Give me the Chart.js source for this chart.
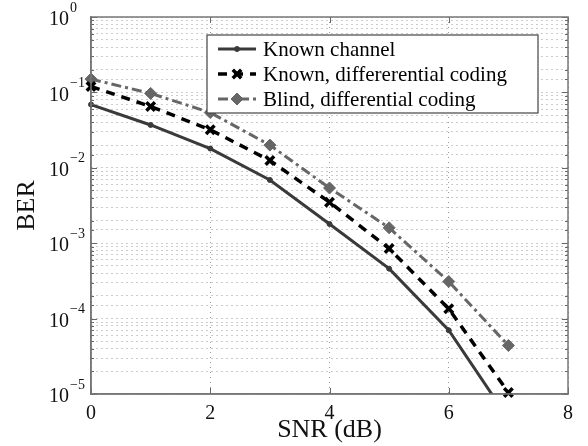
<!DOCTYPE html>
<html>
<head>
<meta charset="utf-8">
<script src="https://cdn.jsdelivr.net/npm/chart.js@4/dist/chart.umd.min.js"></script>
<style>
  body { margin: 0; background: #fff; }
  #berChart { display: block; }
</style>
</head>
<body>
<canvas id="berChart" width="588" height="446"></canvas>
<script>
// Chart data
const snr = [0, 1, 2, 3, 4, 5, 6, 7];
const knownChannel = [0.069, 0.037, 0.018, 0.0069, 0.0018, 0.00046, 0.00007, 0.0000047];
const knownDiff = [0.12, 0.065, 0.032, 0.0125, 0.0035, 0.00085, 0.000135, 0.0000105];
const blindDiff = [0.15, 0.097, 0.054, 0.02, 0.0054, 0.0016, 0.00031, 0.000044];
const seriesNames = ['Known channel', 'Known, differerential coding', 'Blind, differential coding'];
const berTicks = [1, 0.1, 0.01, 0.001, 0.0001, 0.00001];
const berExponents = ['0', '\u22121', '\u22122', '\u22123', '\u22124', '\u22125'];

const serif = "'Liberation Serif', 'Times New Roman', serif";
const toPoints = arr => arr.map((v, i) => ({ x: snr[i], y: v }));

// Draw a marker with the dataset's own point colours
function drawMarker(ctx, ds, x, y) {
    ctx.save();
    ctx.fillStyle = ds.pointBackgroundColor;
    ctx.strokeStyle = ds.pointBorderColor;
    ctx.lineWidth = ds.pointBorderWidth;
    ctx.setLineDash([]);
    Chart.helpers.drawPoint(ctx, {
        pointStyle: ds.pointStyle,
        radius: ds.pointRadius,
        borderWidth: ds.pointBorderWidth,
        rotation: 0
    }, x, y);
    ctx.restore();
}

// Axis labels with superscript exponents, box, inward ticks and legend
const decorPlugin = {
    id: 'decor',
    afterDraw(chart) {
        const ctx = chart.ctx;
        const a = chart.chartArea;
        const xs = chart.scales.x;
        const ys = chart.scales.y;
        ctx.save();

        // inward tick marks on all four sides
        ctx.strokeStyle = '#666';
        ctx.lineWidth = 1;
        ctx.beginPath();
        ys.ticks.forEach(t => {
            const y = Math.round(ys.getPixelForValue(t.value)) + 0.5;
            const lg = Math.log10(t.value);
            const len = Math.abs(lg - Math.round(lg)) < 1e-6 ? 6 : 3;
            ctx.moveTo(a.left, y); ctx.lineTo(a.left + len, y);
            ctx.moveTo(a.right, y); ctx.lineTo(a.right - len, y);
        });
        xs.ticks.forEach(t => {
            const x = Math.round(xs.getPixelForValue(t.value)) + 0.5;
            ctx.moveTo(x, a.bottom); ctx.lineTo(x, a.bottom - 6);
            ctx.moveTo(x, a.top); ctx.lineTo(x, a.top + 6);
        });
        ctx.stroke();

        // plot box
        ctx.strokeStyle = '#777';
        ctx.lineWidth = 1.5;
        ctx.strokeRect(a.left, a.top, a.right - a.left, a.bottom - a.top);

        // y tick labels: 10 with superscript exponent
        ctx.fillStyle = '#111';
        berTicks.forEach((v, i) => {
            const y = ys.getPixelForValue(v);
            ctx.font = '20px ' + serif;
            ctx.textAlign = 'right';
            ctx.textBaseline = 'middle';
            ctx.fillText('10', 69, y + 3);
            ctx.font = '14px ' + serif;
            ctx.textAlign = 'left';
            ctx.fillText(berExponents[i], 70, y - 9);
        });

        // legend box
        const box = { left: 207, top: 35, right: 538, bottom: 113 };
        ctx.fillStyle = '#fff';
        ctx.fillRect(box.left, box.top, box.right - box.left, box.bottom - box.top);
        ctx.strokeStyle = '#444';
        ctx.lineWidth = 1.2;
        ctx.strokeRect(box.left, box.top, box.right - box.left, box.bottom - box.top);

        chart.data.datasets.forEach((ds, i) => {
            const y = 49 + i * 25;
            ctx.save();
            ctx.strokeStyle = ds.borderColor;
            ctx.lineWidth = ds.borderWidth;
            ctx.setLineDash(ds.borderDash || []);
            ctx.beginPath();
            ctx.moveTo(218, y);
            ctx.lineTo(256, y);
            ctx.stroke();
            ctx.restore();
            drawMarker(ctx, ds, 237, y);
            ctx.fillStyle = '#000';
            ctx.font = '21px ' + serif;
            ctx.textAlign = 'left';
            ctx.textBaseline = 'middle';
            ctx.fillText(seriesNames[i], 263, y + 1);
        });
        ctx.restore();
    }
};

new Chart(document.getElementById('berChart').getContext('2d'), {
    type: 'line',
    data: {
        datasets: [{
            data: toPoints(knownChannel),
            borderColor: '#3a3a3a',
            borderWidth: 3,
            pointStyle: 'circle',
            pointRadius: 2.5,
            pointBorderWidth: 1,
            pointBackgroundColor: '#3a3a3a',
            pointBorderColor: '#3a3a3a',
            clip: { left: false, top: false, right: false, bottom: 0 }
        }, {
            data: toPoints(knownDiff),
            borderColor: '#000',
            borderWidth: 3.5,
            borderDash: [9, 7],
            pointStyle: 'crossRot',
            pointRadius: 6,
            pointBorderWidth: 3.5,
            pointBackgroundColor: '#000',
            pointBorderColor: '#000',
            clip: false
        }, {
            data: toPoints(blindDiff),
            borderColor: '#666',
            borderWidth: 3,
            borderDash: [10, 4, 3, 4],
            pointStyle: 'rectRot',
            pointRadius: 6,
            pointBorderWidth: 1,
            pointBackgroundColor: '#666',
            pointBorderColor: '#666',
            clip: false
        }]
    },
    options: {
        responsive: false,
        animation: false,
        layout: { padding: { left: 0, top: 17, right: 20, bottom: 0 } },
        plugins: {
            legend: { display: false },
            tooltip: { enabled: false }
        },
        scales: {
            x: {
                type: 'linear',
                min: 0,
                max: 8,
                ticks: {
                    stepSize: 2,
                    padding: 8,
                    color: '#111',
                    font: { family: serif, size: 20 }
                },
                grid: { color: '#999', lineWidth: 1, drawTicks: false },
                border: { color: '#777', width: 1.5, dash: [1, 4] },
                title: {
                    display: true,
                    text: 'SNR (dB)',
                    color: '#111',
                    font: { family: serif, size: 26 },
                    padding: { top: 0, bottom: 0 }
                },
                afterFit: scale => { scale.height = 52; }
            },
            y: {
                type: 'logarithmic',
                min: 0.00001,
                max: 1,
                ticks: { display: false },
                grid: { color: '#999', lineWidth: 1, drawTicks: false },
                border: { color: '#777', width: 1.5, dash: [1, 4] },
                title: {
                    display: true,
                    text: 'BER',
                    color: '#111',
                    font: { family: serif, size: 26 },
                    padding: { top: 12, bottom: 0 }
                },
                afterFit: scale => { scale.width = 91; }
            }
        }
    },
    plugins: [decorPlugin]
});
</script>
</body>
</html>
